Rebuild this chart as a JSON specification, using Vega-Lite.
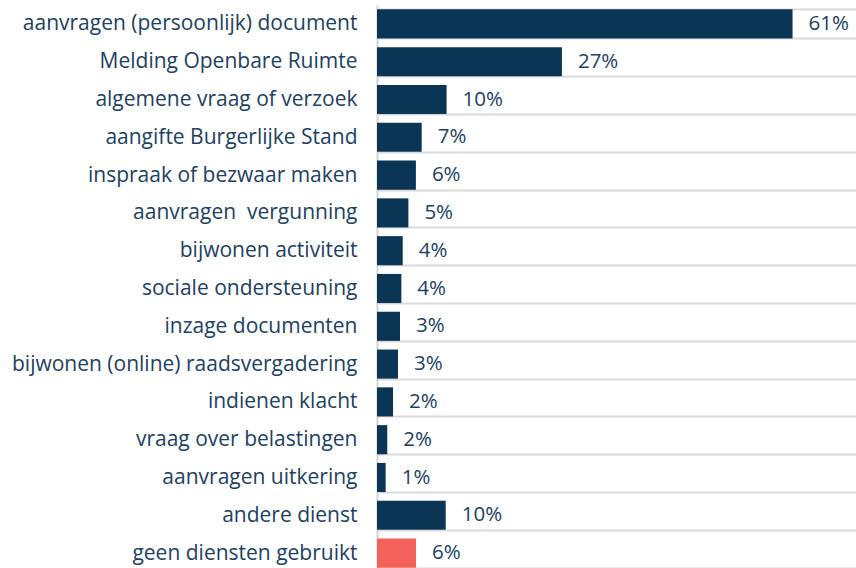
{
  "$schema": "https://vega.github.io/schema/vega-lite/v6.json",
  "autosize": "none",
  "padding": {"left": 377, "top": 5, "right": 0, "bottom": 0},
  "width": 479,
  "height": 567,
  "background": "white",
  "config": {"view": {"stroke": null}},
  "data": {
    "values": [
      {"dienst": "aanvragen (persoonlijk) document", "value": 60.9, "label": "61%", "groep": "dienst"},
      {"dienst": "Melding Openbare Ruimte", "value": 27.1, "label": "27%", "groep": "dienst"},
      {"dienst": "algemene vraag of verzoek", "value": 10.2, "label": "10%", "groep": "dienst"},
      {"dienst": "aangifte Burgerlijke Stand\u00a0", "value": 6.55, "label": "7%", "groep": "dienst"},
      {"dienst": "inspraak of bezwaar maken", "value": 5.7, "label": "6%", "groep": "dienst"},
      {"dienst": "aanvragen\u00a0 vergunning", "value": 4.6, "label": "5%", "groep": "dienst"},
      {"dienst": "bijwonen activiteit", "value": 3.77, "label": "4%", "groep": "dienst"},
      {"dienst": "sociale ondersteuning", "value": 3.57, "label": "4%", "groep": "dienst"},
      {"dienst": "inzage documenten", "value": 3.37, "label": "3%", "groep": "dienst"},
      {"dienst": "bijwonen (online) raadsvergadering", "value": 3.08, "label": "3%", "groep": "dienst"},
      {"dienst": "indienen klacht", "value": 2.35, "label": "2%", "groep": "dienst"},
      {"dienst": "vraag over belastingen", "value": 1.5, "label": "2%", "groep": "dienst"},
      {"dienst": "aanvragen uitkering", "value": 1.27, "label": "1%", "groep": "dienst"},
      {"dienst": "andere dienst", "value": 10.07, "label": "10%", "groep": "dienst"},
      {"dienst": "geen diensten gebruikt", "value": 5.72, "label": "6%", "groep": "geen"}
    ]
  },
  "encoding": {
    "y": {
      "field": "dienst",
      "type": "nominal",
      "sort": null,
      "scale": {"paddingInner": 0.23, "paddingOuter": 0.115},
      "axis": {
        "title": null,
        "ticks": false,
        "tickBand": "extent",
        "grid": true,
        "gridColor": "#dadada",
        "gridWidth": 2,
        "domain": true,
        "domainColor": "#d4d4d4",
        "domainWidth": 2,
        "labelFont": "Open Sans",
        "labelFontSize": 21,
        "labelColor": "#22405f",
        "labelPadding": 20,
        "labelLimit": 400
      }
    },
    "x": {
      "field": "value",
      "type": "quantitative",
      "scale": {"domain": [0, 70.2], "nice": false, "zero": true},
      "axis": null
    }
  },
  "layer": [
    {
      "mark": {"type": "bar"},
      "encoding": {
        "color": {
          "field": "groep",
          "type": "nominal",
          "scale": {"domain": ["dienst", "geen"], "range": ["#0a3554", "#f2625a"]},
          "legend": null
        }
      }
    },
    {
      "mark": {"type": "text", "align": "left", "baseline": "middle", "dx": 16, "font": "Open Sans", "fontSize": 20.5, "color": "#22405f"},
      "encoding": {"text": {"field": "label"}}
    }
  ]
}
